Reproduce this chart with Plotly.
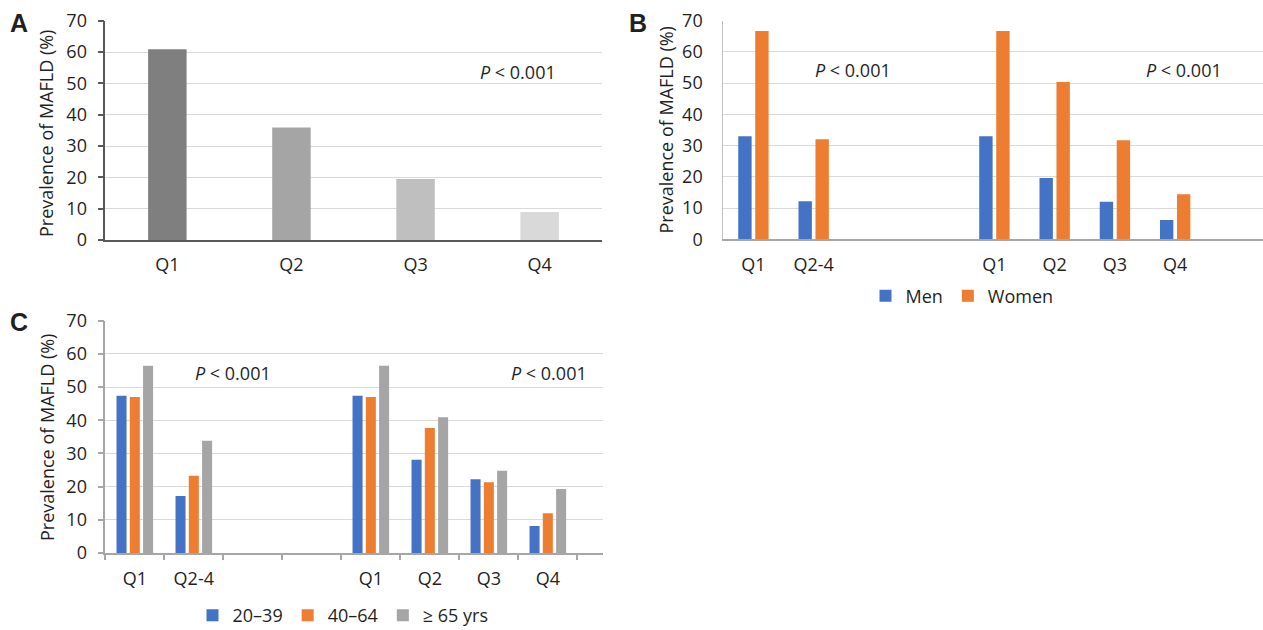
import plotly.graph_objects as go

# ---------------- data ----------------
A_LABELS = ["Q1", "Q2", "Q3", "Q4"]
A_VALUES = [60.9, 35.9, 19.5, 8.9]

B_LABELS = ["Q1", "Q2-4", "", "", "Q1", "Q2", "Q3", "Q4", ""]
B_MEN = [33.0, 12.2, None, None, 33.0, 19.6, 12.0, 6.2, None]
B_WOMEN = [66.7, 32.0, None, None, 66.7, 50.4, 31.7, 14.4, None]
B_SERIES = ["Men", "Women"]

C_LABELS = ["Q1", "Q2-4", "", "", "Q1", "Q2", "Q3", "Q4"]
C_20_39 = [47.4, 17.2, None, None, 47.4, 28.1, 22.2, 8.1]
C_40_64 = [47.0, 23.3, None, None, 47.0, 37.7, 21.3, 12.0]
C_65 = [56.4, 33.8, None, None, 56.4, 40.9, 24.8, 19.3]
C_SERIES = ["20\u201339", "40\u201364", "\u2265 65 yrs"]

Y_TICKS = [0, 10, 20, 30, 40, 50, 60, 70]
Y_TITLE = "Prevalence of MAFLD (%)"
P_TEXT = "<i>P</i> &lt; 0.001"

# ---------------- styles ----------------
A_COLORS = ["#7F7F7F", "#A5A5A5", "#BFBFBF", "#D9D9D9"]
BLUE, ORANGE, GREY = "#4472C4", "#ED7D31", "#A5A5A5"
FONT = "Open Sans"
FS = 18
TXT = "#1F1F1F"
GRID = "#D9D9D9"

W, H = 1263, 630


def px(x):
    return x / W


def py(y):
    return 1 - y / H


B_KEYS = [f"b{i}" for i in range(len(B_LABELS))]
C_KEYS = [f"c{i}" for i in range(len(C_LABELS))]

fig = go.Figure()

# Panel A
fig.add_trace(go.Bar(x=A_LABELS, y=A_VALUES, width=0.31,
                     marker=dict(color=A_COLORS, line=dict(width=0)),
                     showlegend=False, xaxis="x", yaxis="y"))

# Panel B
for name, vals, col, off in [(B_SERIES[0], B_MEN, BLUE, -0.252),
                             (B_SERIES[1], B_WOMEN, ORANGE, 0.030)]:
    fig.add_trace(go.Bar(x=B_KEYS, y=vals, name=name, width=0.222, offset=off,
                         marker=dict(color=col, line=dict(width=0)),
                         xaxis="x2", yaxis="y2", legend="legend"))

# Panel C
for name, vals, col, off in [(C_SERIES[0], C_20_39, BLUE, -0.310),
                             (C_SERIES[1], C_40_64, ORANGE, -0.085),
                             (C_SERIES[2], C_65, GREY, 0.140)]:
    fig.add_trace(go.Bar(x=C_KEYS, y=vals, name=name, width=0.17, offset=off,
                         marker=dict(color=col, line=dict(width=0)),
                         xaxis="x3", yaxis="y3", legend="legend2"))

tickfont = dict(family=FONT, size=FS, color=TXT)

common_y = dict(range=[0, 70], tickvals=Y_TICKS, showgrid=True, gridcolor=GRID,
                gridwidth=1, zeroline=False, showline=True, tickfont=tickfont,
                fixedrange=True, automargin=False)

fig.update_layout(
    width=W, height=H, autosize=False,
    margin=dict(l=0, r=0, t=0, b=0, autoexpand=False),
    paper_bgcolor="white", plot_bgcolor="white",
    barmode="overlay",
    font=dict(family=FONT, size=FS, color=TXT),
    # A
    xaxis=dict(domain=[px(105.3), px(601.7)], range=[-0.5, 3.5], type="category",
               showline=True, linecolor="#595959", linewidth=1.5, ticks="",
               tickfont=tickfont, ticklabelstandoff=8, anchor="y",
               automargin=False, fixedrange=True),
    yaxis=dict(domain=[py(240), py(20.7)], linecolor="#595959", linewidth=1.5,
               ticks="outside", ticklen=6, tickcolor="#595959", tickwidth=1.5,
               ticklabelstandoff=7, anchor="x", **common_y),
    # B
    xaxis2=dict(domain=[px(723.3), 1.0], range=[-0.5, 8.458], type="category",
                tickvals=B_KEYS, ticktext=B_LABELS,
                showline=True, linecolor="#A6A6A6", linewidth=2, ticks="",
                tickfont=tickfont, ticklabelstandoff=8, anchor="y2",
                automargin=False, fixedrange=True),
    yaxis2=dict(domain=[py(239.3), py(20.7)], linecolor="#BFBFBF", linewidth=1,
                ticks="", ticklabelstandoff=16, anchor="x2", **common_y),
    # C
    xaxis3=dict(domain=[px(105.3), px(603.3)], range=[-0.5, 7.94], type="category",
                tickvals=C_KEYS, ticktext=C_LABELS, tickson="boundaries",
                showline=True, linecolor="#A6A6A6", linewidth=2,
                ticks="outside", ticklen=5, tickcolor="#A6A6A6", tickwidth=1.5,
                tickfont=tickfont, ticklabelstandoff=8, anchor="y3",
                automargin=False, fixedrange=True),
    yaxis3=dict(domain=[py(553), py(320.7)], linecolor="#A6A6A6", linewidth=1.5,
                ticks="outside", ticklen=6, tickcolor="#A6A6A6", tickwidth=1.5,
                ticklabelstandoff=7, anchor="x3", **common_y),
    legend=dict(orientation="h", x=px(962), y=py(296), xanchor="center",
                yanchor="middle", font=dict(family=FONT, size=FS, color=TXT),
                bgcolor="rgba(0,0,0,0)", itemwidth=30),
    legend2=dict(orientation="h", x=px(343), y=py(597), xanchor="center",
                 yanchor="top", font=dict(family=FONT, size=FS, color=TXT),
                 bgcolor="rgba(0,0,0,0)", itemwidth=30),
)

ann = []
# panel letters
for letter, xx, yy in [("A", 18.5, 23.5), ("B", 638, 23.5), ("C", 19, 322)]:
    ann.append(dict(text=f"<b>{letter}</b>", x=px(xx), y=py(yy), xref="paper",
                    yref="paper", showarrow=False, xanchor="center", yanchor="middle",
                    font=dict(family="Liberation Sans", size=25, color="#231F20")))
# y titles
for xx, yy in [(46, 134), (665, 130.5), (47, 437)]:
    ann.append(dict(text=Y_TITLE, x=px(xx), y=py(yy), xref="paper", yref="paper",
                    showarrow=False, textangle=-90, xanchor="center", yanchor="middle",
                    font=dict(family=FONT, size=FS, color=TXT)))
# P values
for xx, yy in [(518, 71.7), (853, 70), (1184, 70), (232.7, 373.3), (548.5, 373.3)]:
    ann.append(dict(text=P_TEXT, x=px(xx), y=py(yy), xref="paper", yref="paper",
                    showarrow=False, xanchor="center", yanchor="middle",
                    font=dict(family=FONT, size=FS, color=TXT)))
fig.update_layout(annotations=ann)

fig.write_html("out.html", config={"displayModeBar": False},
               post_script="document.body.style.margin='0';")
